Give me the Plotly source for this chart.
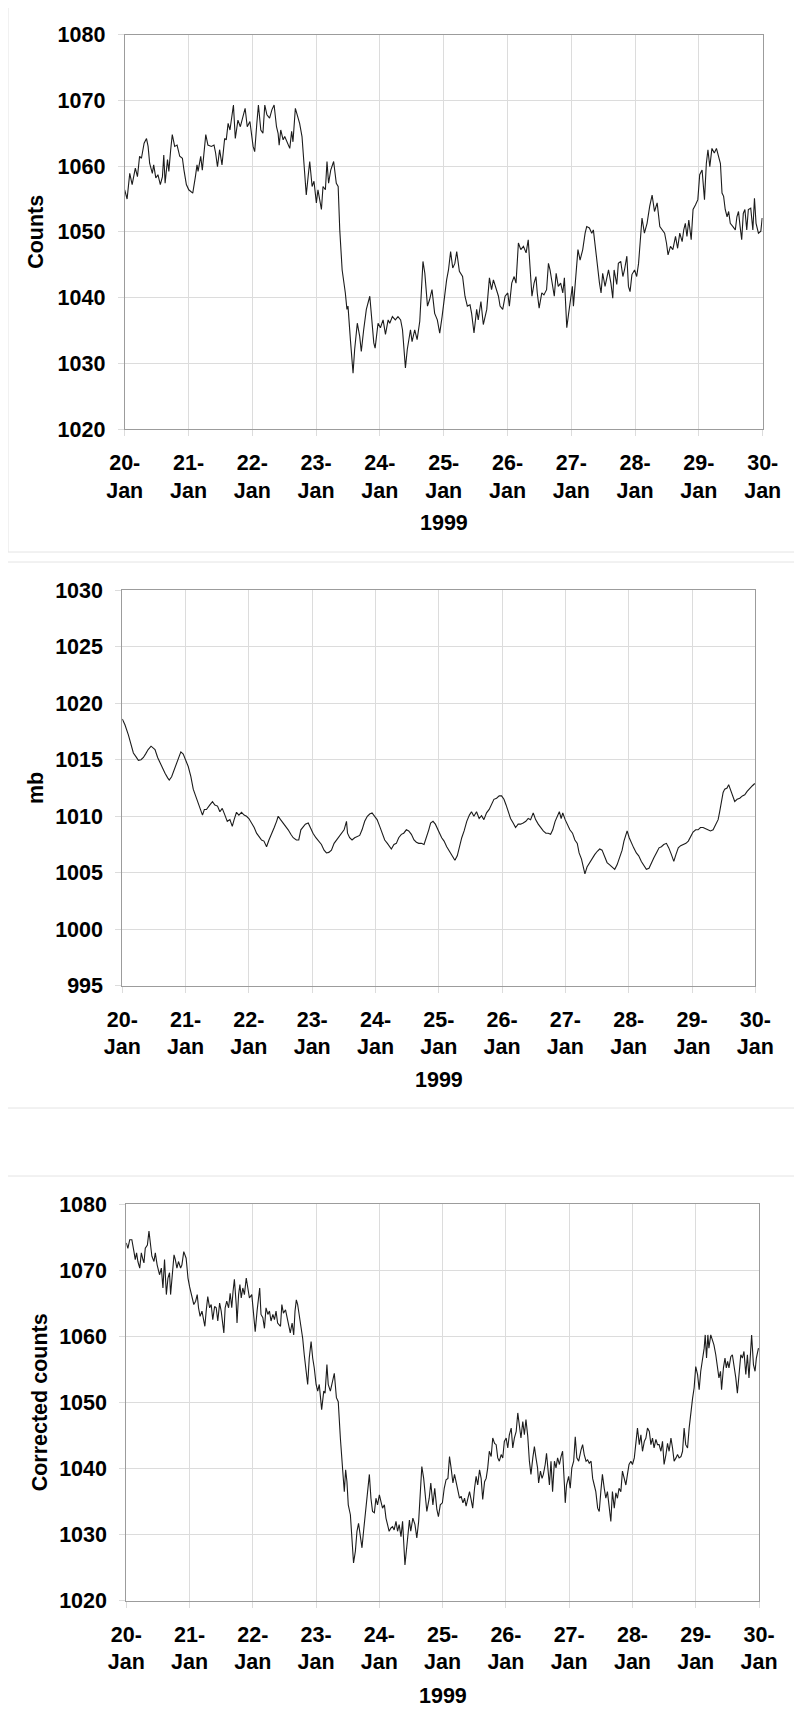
import pandas as pd
import plotly.graph_objects as go

PAGE_W, PAGE_H = 802, 1715
BODY_MARGIN = 8          # default page margin around the plot div
W, H = PAGE_W - BODY_MARGIN, PAGE_H - BODY_MARGIN
START = pd.Timestamp("1999-01-20")

# ---------------- data (hours after 20-Jan 00:00) ----------------
counts_hours = [
    0, 0.9, 1.9, 2.8, 4.0, 4.8, 5.6, 6.3, 7.3, 8.2,
    8.8, 9.4, 10.4, 10.9, 11.7, 12.5, 13.4, 14.2, 14.7, 15.2,
    16.1, 16.6, 17.3, 17.9, 18.8, 19.7, 20.7, 21.7, 22.3, 23.2,
    24.1, 25.1, 25.6, 26.6, 27.2, 27.6, 28.6, 29.2, 30.5, 31.3,
    32.6, 33.6, 34.2, 34.9, 35.7, 36.6, 37.6, 38.2, 38.9, 39.6,
    40.9, 41.6, 42.6, 43.5, 44.3, 45.3, 46.1, 47.1, 48.3, 48.9,
    49.7, 50.3, 51.2, 52.0, 52.7, 53.5, 54.5, 55.4, 56.2, 57.1,
    57.7, 58.1, 58.7, 59.6, 60.2, 61.4, 62.1, 62.8, 63.3, 64.2,
    65.2, 65.8, 66.7, 67.5, 68.3, 69.0, 69.6, 70.5, 71.2, 72.1,
    72.7, 74.0, 74.6, 75.5, 76.1, 76.7, 77.5, 78.6, 79.6, 80.3,
    80.9, 81.8, 82.5, 83.0, 83.6, 84.0, 84.9, 85.9, 86.5, 87.5,
    88.4, 89.0, 89.9, 90.9, 92.2, 92.8, 93.7, 94.2, 95.3, 96.2,
    97.2, 98.1, 99.1, 99.7, 100.7, 101.8, 102.8, 103.8, 104.5, 105.6,
    106.3, 107.5, 108.1, 109.1, 110.0, 111.0, 111.6, 112.2, 112.9, 113.9,
    114.7, 115.6, 116.6, 117.6, 118.5, 119.4, 121.1, 121.8, 122.6, 123.4,
    124.2, 124.9, 125.9, 127.1, 128.0, 128.9, 129.9, 130.5, 131.4, 132.4,
    133.0, 134.0, 134.9, 136.2, 137.2, 138.0, 138.7, 139.7, 140.6, 141.2,
    142.2, 143.1, 144.1, 144.7, 145.6, 146.5, 147.2, 148.1, 149.0, 150.0,
    151.0, 151.8, 152.5, 153.2, 154.0, 154.7, 155.2, 155.9, 156.9, 157.7,
    158.7, 159.4, 160.0, 160.9, 161.6, 162.3, 163.1, 164.0, 164.8, 165.4,
    165.9, 166.3, 167.0, 167.8, 168.4, 168.8, 169.8, 170.5, 171.3, 172.3,
    173.2, 173.8, 174.8, 175.7, 176.3, 177.0, 177.6, 178.6, 179.2, 179.8,
    180.7, 182.0, 182.9, 183.6, 184.1, 185.1, 185.7, 186.6, 187.4, 188.0,
    188.9, 189.5, 190.1, 190.8, 191.8, 192.6, 193.3, 193.9, 194.6, 195.5,
    196.5, 197.5, 198.4, 199.3, 200.3, 201.3, 202.2, 203.1, 203.8, 204.4,
    205.3, 206.2, 207.2, 208.0, 208.8, 209.7, 210.3, 210.9, 211.5, 212.2,
    213.1, 213.8, 214.7, 215.6, 216.3, 217.2, 218.1, 218.8, 219.4, 220.1,
    220.9, 221.8, 222.6, 223.4, 224.1, 224.7, 225.3, 225.9, 226.6, 227.2,
    227.8, 228.8, 229.7, 230.3, 230.9, 231.5, 232.1, 232.7, 233.3, 234.0,
    234.6, 235.5, 236.3, 236.9, 237.5, 238.4, 239.3, 239.8,
]
counts_values = [
    1056.4, 1055.0, 1058.9, 1057.2, 1059.7, 1058.4, 1061.5, 1061.2, 1063.5, 1064.2,
    1063.0, 1060.4, 1058.9, 1060.2, 1058.2, 1058.7, 1057.2, 1058.4, 1061.7, 1057.4,
    1061.0, 1059.2, 1062.5, 1064.8, 1063.0, 1063.2, 1061.5, 1061.2, 1059.4, 1057.2,
    1056.4, 1056.1, 1055.9, 1058.4, 1060.2, 1059.2, 1061.5, 1059.4, 1064.8, 1063.2,
    1063.0, 1063.2, 1062.0, 1059.9, 1062.5, 1060.2, 1064.2, 1064.0, 1066.5, 1065.5,
    1069.3, 1064.2, 1067.0, 1066.0, 1067.3, 1068.8, 1066.0, 1066.8, 1063.0, 1062.2,
    1066.5, 1069.3, 1065.5, 1065.0, 1069.3, 1067.8, 1067.3, 1068.6, 1069.3, 1066.0,
    1065.0, 1063.2, 1065.5, 1064.0, 1064.5, 1063.5, 1062.7, 1065.3, 1063.7, 1068.8,
    1067.5, 1066.5, 1064.5, 1060.4, 1055.6, 1058.4, 1060.7, 1056.9, 1057.7, 1054.4,
    1056.4, 1053.4, 1056.9, 1056.4, 1060.7, 1057.4, 1059.4, 1060.7, 1057.4, 1056.9,
    1050.3, 1044.2, 1042.2, 1040.7, 1038.2, 1038.7, 1033.6, 1028.5, 1032.1, 1036.1,
    1034.1, 1031.8, 1035.1, 1038.2, 1040.2, 1037.1, 1033.1, 1032.3, 1036.1, 1035.4,
    1036.6, 1034.4, 1036.6, 1036.1, 1037.1, 1036.6, 1037.1, 1036.6, 1035.1, 1029.3,
    1032.1, 1035.1, 1033.3, 1035.1, 1033.6, 1036.4, 1040.7, 1045.5, 1043.7, 1038.7,
    1039.7, 1041.2, 1037.6, 1036.6, 1034.6, 1037.1, 1042.7, 1044.2, 1047.0, 1044.5,
    1045.2, 1047.0, 1044.0, 1043.2, 1040.2, 1038.7, 1038.9, 1037.6, 1034.6, 1038.2,
    1036.6, 1039.4, 1035.9, 1038.2, 1043.0, 1041.2, 1042.7, 1041.2, 1040.2, 1038.7,
    1038.2, 1040.2, 1040.7, 1038.7, 1042.2, 1043.2, 1042.2, 1048.3, 1047.3, 1047.8,
    1046.8, 1048.8, 1045.2, 1040.2, 1042.2, 1043.2, 1040.7, 1038.4, 1040.7, 1040.4,
    1041.2, 1045.2, 1044.2, 1042.2, 1040.2, 1043.7, 1041.7, 1042.2, 1040.7, 1043.0,
    1037.1, 1035.4, 1037.6, 1040.2, 1041.7, 1038.7, 1043.2, 1047.3, 1045.7, 1047.3,
    1049.8, 1050.8, 1050.6, 1049.8, 1050.3, 1047.8, 1045.2, 1042.2, 1040.7, 1043.7,
    1041.7, 1044.2, 1042.2, 1039.9, 1044.2, 1042.0, 1045.2, 1045.5, 1043.2, 1044.2,
    1046.3, 1041.7, 1040.9, 1043.5, 1044.2, 1043.2, 1045.2, 1048.3, 1052.1, 1049.8,
    1051.3, 1053.9, 1055.6, 1053.1, 1054.4, 1050.8, 1050.3, 1049.8, 1048.3, 1046.5,
    1047.8, 1047.3, 1049.3, 1047.5, 1049.8, 1048.5, 1050.3, 1051.3, 1049.3, 1051.8,
    1048.8, 1053.4, 1054.1, 1054.9, 1058.7, 1059.4, 1054.9, 1060.4, 1062.5, 1059.9,
    1062.7, 1062.0, 1062.7, 1061.5, 1060.4, 1055.9, 1055.4, 1053.4, 1052.3, 1053.1,
    1051.3, 1050.8, 1050.3, 1052.3, 1053.1, 1050.8, 1048.8, 1052.8, 1053.4, 1050.3,
    1053.4, 1053.6, 1050.3, 1055.1, 1051.3, 1049.8, 1050.1, 1052.1,
]

pressure_hours = [
    0, 1.0, 2.3, 3.3, 4.2, 5.1, 6.1, 7.1, 8.0, 8.8,
    9.8, 10.9, 11.7, 12.4, 13.4, 14.3, 15.2, 16.2, 17.2, 17.8,
    18.7, 19.7, 20.6, 21.5, 22.2, 23.1, 24.0, 25.0, 26.0, 26.9,
    27.8, 28.8, 29.8, 30.4, 31.1, 31.9, 33.2, 34.2, 35.1, 36.1,
    37.0, 37.9, 38.9, 39.8, 40.8, 41.7, 42.4, 43.3, 44.2, 45.2,
    46.2, 47.1, 48.0, 49.0, 50.0, 50.9, 51.8, 52.8, 53.7, 54.7,
    55.6, 56.6, 57.6, 58.5, 59.1, 60.0, 61.0, 61.9, 62.9, 63.9,
    64.8, 66.0, 66.9, 67.7, 68.6, 69.4, 70.5, 71.5, 72.3, 73.4,
    74.5, 75.5, 76.5, 77.4, 78.3, 79.3, 80.3, 81.2, 82.1, 83.1,
    84.1, 85.0, 85.4, 86.2, 87.1, 88.1, 89.1, 90.0, 90.9, 91.9,
    92.9, 93.8, 94.7, 95.7, 96.6, 97.6, 98.5, 99.5, 100.5, 101.4,
    102.0, 103.0, 103.9, 104.8, 105.8, 106.7, 107.7, 108.6, 109.6, 110.6,
    111.5, 112.4, 113.4, 114.4, 115.3, 116.2, 116.9, 117.8, 118.7, 119.4,
    120.3, 121.1, 122.0, 123.0, 124.0, 124.9, 126.1, 127.0, 127.8, 128.7,
    129.6, 130.6, 131.6, 132.4, 133.3, 134.3, 135.3, 136.2, 137.1, 138.1,
    139.1, 140.0, 140.9, 141.9, 142.9, 143.8, 144.7, 145.5, 146.3, 147.2,
    148.2, 149.1, 150.1, 151.0, 152.0, 153.0, 153.9, 154.8, 155.8, 156.7,
    157.7, 158.6, 159.6, 160.6, 161.5, 162.4, 163.2, 164.1, 165.0, 165.7,
    166.4, 167.0, 167.9, 168.7, 169.7, 170.7, 171.6, 172.5, 173.2, 174.1,
    174.7, 175.4, 176.2, 177.2, 178.2, 179.1, 180.1, 181.0, 181.9, 182.9,
    183.8, 184.8, 185.7, 186.7, 187.6, 188.6, 189.5, 190.2, 190.9, 191.4,
    192.2, 193.0, 193.9, 194.9, 195.8, 196.8, 197.7, 198.7, 199.7, 200.6,
    201.5, 202.5, 203.5, 204.4, 205.3, 206.3, 207.2, 208.2, 209.1, 209.9,
    210.8, 211.7, 212.7, 213.7, 214.6, 215.4, 216.4, 217.4, 218.3, 219.2,
    220.2, 221.2, 222.1, 223.0, 224.0, 225.0, 225.9, 226.5, 227.1, 227.8,
    228.4, 229.3, 229.9, 230.5, 231.3, 232.2, 233.1, 234.1, 235.1, 236.0,
    236.9, 237.9, 238.9, 239.8,
]
pressure_mb = [
    1018.6, 1018.1, 1017.2, 1016.3, 1015.6, 1015.3, 1014.95, 1015.0, 1015.2, 1015.5,
    1015.9, 1016.2, 1016.0, 1015.9, 1015.2, 1014.7, 1014.3, 1013.8, 1013.4, 1013.2,
    1013.5, 1014.1, 1014.6, 1015.3, 1015.7, 1015.5, 1015.0, 1014.4, 1013.5, 1012.4,
    1011.8, 1011.2, 1010.6, 1010.1, 1010.6, 1010.6, 1011.0, 1011.3, 1011.0, 1010.9,
    1010.4, 1010.7, 1010.1, 1009.55, 1009.7, 1009.1, 1009.7, 1010.35, 1010.1, 1010.35,
    1010.1, 1010.0, 1009.8, 1009.4, 1009.0, 1008.5, 1008.2, 1007.9, 1007.8, 1007.3,
    1007.9, 1008.4, 1009.0, 1009.55, 1010.0, 1009.7, 1009.4, 1009.1, 1008.8, 1008.4,
    1008.1, 1007.9, 1007.9, 1008.8, 1009.1, 1009.3, 1009.4, 1008.8, 1008.5, 1008.1,
    1007.8, 1007.5, 1007.0, 1006.75, 1006.8, 1007.0, 1007.6, 1007.9, 1008.2, 1008.5,
    1008.8, 1009.55, 1008.5, 1008.1, 1007.9, 1008.1, 1008.2, 1008.3, 1008.8, 1009.55,
    1010.0, 1010.2, 1010.3, 1010.0, 1009.7, 1009.1, 1008.5, 1007.9, 1007.6, 1007.3,
    1007.1, 1007.5, 1007.6, 1008.1, 1008.4, 1008.5, 1008.8, 1008.7, 1008.4, 1007.9,
    1007.7, 1007.6, 1007.6, 1007.5, 1008.1, 1008.8, 1009.4, 1009.55, 1009.3, 1009.0,
    1008.5, 1008.1, 1007.8, 1007.3, 1006.9, 1006.5, 1006.1, 1006.5, 1007.3, 1008.1,
    1008.7, 1009.55, 1010.1, 1010.4, 1010.0, 1010.4, 1009.8, 1010.05, 1009.7, 1010.3,
    1010.6, 1011.1, 1011.5, 1011.6, 1011.8, 1011.8, 1011.5, 1011.0, 1010.4, 1009.8,
    1009.4, 1009.0, 1009.3, 1009.3, 1009.4, 1009.55, 1009.8, 1009.7, 1010.3, 1009.7,
    1009.3, 1009.0, 1008.7, 1008.5, 1008.5, 1008.4, 1008.8, 1009.55, 1010.0, 1010.4,
    1009.8, 1010.3, 1009.7, 1009.3, 1008.8, 1008.5, 1007.9, 1007.6, 1006.75, 1006.2,
    1005.6, 1004.9, 1005.5, 1005.9, 1006.2, 1006.6, 1006.9, 1007.1, 1007.0, 1006.5,
    1005.9, 1005.7, 1005.5, 1005.3, 1005.7, 1006.3, 1007.0, 1007.8, 1008.4, 1008.7,
    1008.1, 1007.6, 1007.2, 1006.75, 1006.5, 1006.0, 1005.7, 1005.3, 1005.4, 1005.9,
    1006.3, 1006.75, 1007.2, 1007.3, 1007.5, 1007.6, 1007.2, 1006.6, 1006.0, 1006.6,
    1007.2, 1007.4, 1007.5, 1007.6, 1007.8, 1008.2, 1008.6, 1008.8, 1008.8, 1009.0,
    1009.0, 1008.9, 1008.8, 1008.7, 1008.8, 1009.3, 1009.7, 1010.4, 1011.3, 1012.1,
    1012.4, 1012.5, 1012.8, 1012.4, 1011.9, 1011.3, 1011.5, 1011.6, 1011.8, 1011.9,
    1012.2, 1012.5, 1012.7, 1012.9,
]

corrected_hours = [
    0, 0.6, 1.3, 2.1, 2.9, 3.4, 3.9, 4.4, 5.1, 5.7,
    6.3, 6.7, 7.2, 8.0, 8.6, 9.1, 9.7, 10.5, 11.0, 11.7,
    12.6, 13.3, 13.9, 14.5, 15.2, 15.8, 16.4, 16.8, 17.4, 18.1,
    18.6, 19.2, 19.8, 20.6, 21.1, 21.8, 22.7, 23.4, 24.0, 24.6,
    25.6, 26.3, 26.9, 27.4, 28.0, 28.7, 29.3, 29.8, 30.3, 30.9,
    31.6, 32.2, 32.8, 33.5, 34.1, 34.7, 35.4, 36.0, 37.0, 37.5,
    38.1, 38.8, 39.4, 40.0, 40.5, 41.0, 41.7, 42.0, 42.6, 43.1,
    43.6, 44.2, 44.8, 45.5, 46.1, 46.7, 47.6, 48.4, 48.9, 49.6,
    50.1, 50.6, 51.1, 51.8, 52.4, 53.0, 53.7, 54.3, 54.9, 55.6,
    56.2, 56.8, 57.4, 58.5, 59.0, 59.6, 60.4, 61.0, 61.6, 62.2,
    62.9, 63.5, 64.0, 64.5, 65.0, 65.7, 66.3, 66.9, 67.5, 68.2,
    68.8, 69.4, 70.1, 70.7, 71.3, 72.0, 72.6, 73.2, 74.1, 74.9,
    75.4, 76.1, 76.6, 77.4, 78.2, 78.9, 79.7, 80.4, 81.2, 81.7,
    82.2, 82.7, 83.2, 83.7, 84.2, 85.0, 85.6, 86.2, 86.9, 87.5,
    88.1, 88.8, 89.4, 90.0, 90.7, 91.3, 91.8, 92.2, 92.8, 93.4,
    94.1, 94.7, 95.3, 96.0, 96.6, 97.2, 97.9, 98.5, 99.1, 99.7,
    100.4, 101.0, 101.6, 102.3, 102.9, 103.5, 104.2, 104.8, 105.7, 106.2,
    106.7, 107.4, 107.9, 108.7, 109.5, 110.2, 110.9, 111.5, 112.1, 112.8,
    113.4, 114.0, 114.9, 115.5, 116.3, 117.0, 117.8, 118.4, 119.1, 119.9,
    120.6, 121.3, 122.0, 122.6, 123.2, 123.9, 124.5, 125.1, 125.7, 126.4,
    127.0, 127.7, 128.3, 128.9, 129.6, 130.2, 130.8, 131.4, 132.1, 132.7,
    133.3, 134.0, 134.6, 135.2, 135.9, 136.5, 137.1, 137.7, 138.4, 139.0,
    139.7, 140.3, 140.9, 141.5, 142.2, 142.8, 143.4, 144.1, 144.7, 145.3,
    146.0, 146.6, 147.2, 147.9, 148.5, 149.1, 149.7, 150.4, 151.0, 151.6,
    152.3, 152.9, 153.5, 154.2, 154.8, 155.4, 156.0, 156.4, 157.1, 157.7,
    158.2, 158.9, 159.4, 159.9, 160.5, 161.1, 161.7, 162.4, 163.0, 163.6,
    164.3, 164.9, 165.5, 166.2, 166.5, 167.0, 167.8, 168.4, 169.0, 169.7,
    170.3, 170.9, 171.6, 172.5, 173.1, 173.7, 174.4, 175.0, 175.6, 176.3,
    176.9, 177.5, 178.1, 178.8, 179.4, 180.0, 180.6, 181.3, 181.9, 182.5,
    183.2, 183.8, 184.4, 185.1, 185.7, 186.3, 186.9, 187.6, 188.2, 188.8,
    189.5, 190.1, 190.7, 191.4, 192.0, 192.7, 193.3, 193.9, 194.6, 195.2,
    195.8, 196.5, 197.1, 197.7, 198.4, 199.0, 199.6, 200.2, 200.9, 201.5,
    202.1, 202.8, 203.4, 204.0, 204.7, 205.3, 205.9, 206.6, 207.2, 207.8,
    208.5, 209.1, 209.7, 210.4, 211.0, 211.6, 212.2, 212.9, 213.5, 214.2,
    214.8, 215.4, 216.0, 216.7, 217.3, 217.9, 218.6, 219.2, 219.6, 220.1,
    220.6, 221.0, 221.7, 222.3, 222.9, 223.6, 224.2, 224.8, 225.4, 225.8,
    226.5, 227.1, 227.6, 228.1, 228.6, 229.3, 229.9, 230.5, 231.2, 231.8,
    232.4, 233.1, 233.7, 234.3, 235.0, 235.6, 236.2, 236.9, 237.2, 237.9,
    238.5, 239.0, 239.8,
]
corrected_values = [
    1074.1, 1073.3, 1074.6, 1074.6, 1072.8, 1071.6, 1072.6, 1071.3, 1070.3, 1072.6,
    1071.6, 1071.1, 1073.3, 1073.8, 1075.9, 1073.8, 1072.1, 1071.3, 1072.6, 1070.8,
    1069.3, 1070.3, 1067.3, 1071.6, 1066.3, 1068.8, 1069.6, 1066.3, 1069.3, 1072.3,
    1071.6, 1070.3, 1071.3, 1070.3, 1070.8, 1072.8, 1071.8, 1068.8, 1067.5, 1066.3,
    1064.8, 1065.3, 1066.3, 1064.3, 1063.0, 1063.8, 1062.8, 1061.5, 1063.8, 1066.0,
    1064.3, 1064.8, 1062.5, 1064.5, 1064.3, 1062.3, 1065.0, 1063.8, 1060.5, 1064.3,
    1065.3, 1064.3, 1066.5, 1064.3, 1066.8, 1068.6, 1064.8, 1062.0, 1066.3, 1067.8,
    1065.8, 1067.3, 1066.3, 1068.8, 1067.3, 1065.8, 1066.3, 1062.8, 1060.7, 1063.8,
    1065.8, 1067.3, 1063.3, 1062.8, 1061.2, 1064.3, 1063.3, 1063.8, 1062.3, 1063.3,
    1062.5, 1063.8, 1062.0, 1061.5, 1064.8, 1063.5, 1064.0, 1062.8, 1061.7, 1060.5,
    1062.0, 1060.2, 1063.8, 1065.5, 1064.8, 1062.8, 1061.7, 1059.7, 1057.2, 1054.7,
    1052.7, 1056.7, 1059.2, 1056.7, 1055.2, 1052.7, 1051.7, 1052.7, 1048.9, 1051.7,
    1051.4, 1055.7, 1052.7, 1051.7, 1053.2, 1054.4, 1050.7, 1050.1, 1044.6, 1041.1,
    1039.1, 1036.5, 1039.8, 1038.0, 1034.5, 1033.0, 1028.5, 1025.7, 1027.5, 1030.5,
    1031.7, 1030.0, 1028.0, 1030.5, 1033.0, 1036.0, 1037.5, 1039.1, 1035.5, 1033.5,
    1033.3, 1035.5, 1034.5, 1036.0, 1035.0, 1034.0, 1034.5, 1032.5, 1031.5, 1030.5,
    1031.0, 1031.2, 1030.7, 1032.0, 1030.5, 1031.5, 1029.7, 1032.0, 1025.4, 1027.5,
    1029.0, 1032.2, 1030.5, 1032.5, 1031.5, 1029.5, 1032.0, 1035.5, 1040.3, 1038.5,
    1035.5, 1033.5, 1035.5, 1037.8, 1034.5, 1037.0, 1033.8, 1032.7, 1034.5, 1034.8,
    1037.0, 1038.3, 1038.5, 1041.8, 1040.1, 1037.8, 1039.1, 1038.0, 1036.5, 1035.5,
    1035.8, 1034.8, 1035.5, 1034.3, 1035.5, 1036.5, 1035.3, 1034.0, 1037.0, 1038.8,
    1037.5, 1039.8, 1038.5, 1035.3, 1038.0, 1038.5, 1040.1, 1042.6, 1041.8, 1044.6,
    1043.8, 1043.6, 1041.6, 1041.1, 1042.1, 1041.6, 1044.1, 1044.6, 1043.1, 1045.1,
    1046.1, 1043.1, 1044.6, 1045.6, 1048.4, 1046.6, 1044.6, 1047.1, 1045.1, 1047.4,
    1044.8, 1041.1, 1039.1, 1041.6, 1043.3, 1041.6, 1040.1, 1037.8, 1039.6, 1038.5,
    1039.1, 1040.6, 1042.3, 1040.1, 1037.5, 1041.1, 1036.5, 1041.1, 1040.1, 1041.6,
    1040.6, 1041.8, 1042.6, 1037.5, 1034.8, 1037.5, 1038.8, 1037.0, 1040.1, 1041.1,
    1044.8, 1041.6, 1041.1, 1042.8, 1043.6, 1042.1, 1041.1, 1041.3, 1040.8, 1041.1,
    1038.5, 1037.5, 1036.5, 1034.0, 1033.5, 1036.5, 1039.1, 1037.0, 1035.5, 1036.5,
    1033.5, 1032.0, 1036.5, 1034.0, 1036.3, 1035.5, 1037.0, 1036.5, 1039.6, 1038.5,
    1037.5, 1039.1, 1040.6, 1041.1, 1040.6, 1041.6, 1043.8, 1046.1, 1043.6, 1045.1,
    1042.6, 1044.1, 1044.6, 1046.1, 1045.6, 1043.6, 1044.6, 1043.1, 1044.4, 1043.6,
    1043.6, 1042.6, 1044.1, 1040.6, 1042.1, 1043.8, 1042.6, 1044.6, 1043.1, 1041.1,
    1041.6, 1042.1, 1041.6, 1041.8, 1042.6, 1046.1, 1043.6, 1043.1, 1046.1, 1049.1,
    1050.6, 1052.2, 1055.4, 1054.2, 1051.9, 1054.7, 1056.7, 1058.2, 1060.2, 1056.7,
    1060.2, 1058.2, 1060.2, 1059.5, 1058.7, 1057.2, 1055.7, 1053.7, 1054.7, 1051.9,
    1055.2, 1056.7, 1055.2, 1056.2, 1055.2, 1056.9, 1057.2, 1055.7, 1053.7, 1051.4,
    1053.7, 1057.2, 1056.7, 1057.7, 1054.2, 1057.2, 1053.7, 1058.2, 1060.2, 1055.7,
    1054.7, 1056.7, 1058.2,
]

for _h, _v in ((counts_hours, counts_values), (pressure_hours, pressure_mb),
               (corrected_hours, corrected_values)):
    assert len(_h) == len(_v), (len(_h), len(_v))

day_numbers = list(range(20, 31))
x_tick_text = [f"{d}-<br>Jan" for d in day_numbers]
x_title = "1999"
y_titles = ["Counts", "mb", "Corrected counts"]
y_ranges = [(1020, 1080), (995, 1030), (1020, 1080)]
y_steps = [10, 5, 10]

# ---------------- layout geometry (page pixels) ----------------
plot_boxes = [  # left, top, right, bottom
    (124.7, 34.7, 762.7, 429.0),
    (122.3, 590.3, 755.3, 985.7),
    (126.3, 1204.0, 759.0, 1600.7),
]
panel_frames = [
    (8, 5, 806, 552),
    (6, 562, 806, 1108),
    (5, 1176, 806, 1730),
]
ytitle_x = [36, 36, 40]
xtitle_y = [523, 1080, 1696]

FONT = "Liberation Sans, Arial, sans-serif"
tick_font = dict(family=FONT, size=21.5, color="#000000", weight="bold")
GRID = "#dcdcdc"
FRAME = "#9c9c9c"


def px(x):
    return (x - BODY_MARGIN) / W


def py(y):
    return 1 - (y - BODY_MARGIN) / H


series = [
    (counts_hours, counts_values),
    (pressure_hours, pressure_mb),
    (corrected_hours, corrected_values),
]

fig = go.Figure()
tick_dates = [pd.Timestamp(f"1999-01-{d:02d}") for d in day_numbers]
layout = {}
annotations = []
shapes = []
for i, ((hrs, vals), box) in enumerate(zip(series, plot_boxes)):
    n = "" if i == 0 else str(i + 1)
    times = START + pd.to_timedelta(hrs, unit="h")
    fig.add_trace(go.Scatter(
        x=times, y=vals, mode="lines",
        line=dict(color="#1c1c1c", width=1.1),
        xaxis="x" + n, yaxis="y" + n, showlegend=False,
        hoverinfo="skip",
    ))
    l, t, r, b = box
    layout["xaxis" + n] = dict(
        domain=[px(l), px(r)], anchor="y" + n, type="date",
        range=[tick_dates[0], tick_dates[-1]],
        tickvals=tick_dates, ticktext=x_tick_text,
        showgrid=True, gridcolor=GRID, gridwidth=1,
        showline=True, linecolor=FRAME, linewidth=1, mirror=True,
        ticks="outside", ticklen=6, tickcolor=GRID, tickwidth=1,
        tickfont=tick_font, zeroline=False, fixedrange=True,
        ticklabelstandoff=8, automargin=False,
    )
    lo, hi = y_ranges[i]
    layout["yaxis" + n] = dict(
        domain=[py(b), py(t)], anchor="x" + n,
        range=[lo, hi], tick0=lo, dtick=y_steps[i],
        showgrid=True, gridcolor=GRID, gridwidth=1,
        showline=True, linecolor=FRAME, linewidth=1, mirror=True,
        ticks="outside", ticklen=6, tickcolor=GRID, tickwidth=1,
        tickfont=tick_font, zeroline=False, fixedrange=True,
        ticklabelstandoff=8, automargin=False,
    )
    annotations.append(dict(
        text=y_titles[i], textangle=-90, xref="paper", yref="paper",
        x=px(ytitle_x[i]), y=py((t + b) / 2), xanchor="center", yanchor="middle",
        showarrow=False, font=tick_font,
    ))
    annotations.append(dict(
        text=x_title, xref="paper", yref="paper",
        x=px((l + r) / 2), y=py(xtitle_y[i]), xanchor="center", yanchor="middle",
        showarrow=False, font=tick_font,
    ))
    fl, ft, fr, fb = panel_frames[i]
    shapes.append(dict(
        type="rect", xref="paper", yref="paper",
        x0=px(fl), x1=px(fr), y0=py(fb), y1=py(ft),
        line=dict(color="#e4e4e4", width=1), fillcolor="rgba(0,0,0,0)",
        layer="below",
    ))

fig.update_layout(
    width=W, height=H,
    margin=dict(l=0, r=0, t=0, b=0, pad=0, autoexpand=False),
    paper_bgcolor="white", plot_bgcolor="white",
    annotations=annotations, shapes=shapes,
    font=dict(family=FONT, color="#000000"),
    **layout,
)

fig.write_html("out.html")
